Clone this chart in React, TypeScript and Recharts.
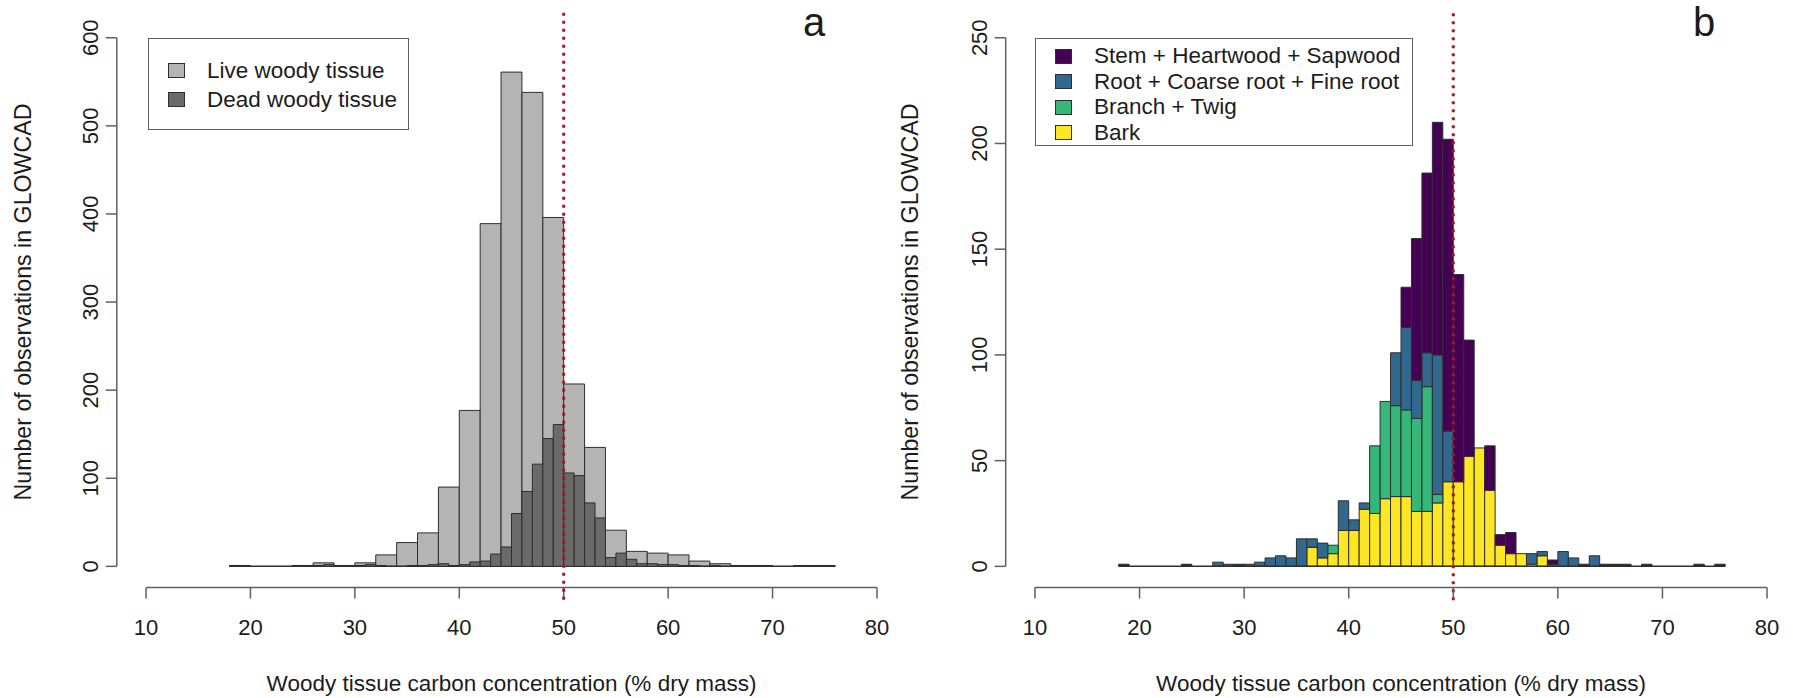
import React from "react";
import { ComposedChart, Bar, XAxis, YAxis, ReferenceLine, Legend, Label } from "recharts";

const FONT = '"Liberation Sans", Arial, Helvetica, sans-serif';
const INK = "#1c1c1c";
const AXIS = "#5f5f5f";
const EDGE = "#2e2e2e";
const RED = "#a8161f";

const W = 1793;
const H = 698;
const PLOT_TOP = 16.6;
const PLOT_BOTTOM = 587.5;

// both panels: xlim = c(10, 80), R pads it by 4% on each side
const X_TICKS = [10, 20, 30, 40, 50, 60, 70, 80];
const X_DOMAIN: [number, number] = [7.2, 82.8];
const CARBON_REF = 50;
const X_TITLE = "Woody tissue carbon concentration (% dry mass)";
const Y_TITLE = "Number of observations in GLOWCAD";

// ---- panel a: live tissue in 2% bins, dead tissue in 1% bins
const LIVE_BIN_WIDTH = 2;
const LIVE_BIN_START = [18, 20, 22, 24, 26, 28, 30, 32, 34, 36, 38, 40, 42, 44, 46, 48, 50, 52, 54, 56, 58, 60, 62, 64, 66, 68, 70, 72, 74];
const LIVE_COUNT = [1, 0, 0, 1, 4, 1, 4, 13, 27, 38, 90, 177, 389, 561, 538, 396, 207, 135, 41, 17, 15, 13, 6, 3, 1, 1, 0, 1, 1];

const DEAD_BIN_WIDTH = 1;
const DEAD_BIN_START = [18, 19, 20, 21, 22, 23, 24, 25, 26, 27, 28, 29, 30, 31, 32, 33, 34, 35, 36, 37, 38, 39, 40, 41, 42, 43, 44, 45, 46, 47, 48, 49, 50, 51, 52, 53, 54, 55, 56, 57, 58, 59, 60, 61, 62, 63, 64, 65, 66, 67, 68, 69, 70, 71, 72, 73, 74, 75];
const DEAD_COUNT = [
  1, 0, 0, 0, 0, 0, 1, 0, 1, 2,
  0, 0, 1, 2, 1, 0, 0, 1, 1, 2,
  3, 1, 2, 5, 6, 14, 22, 60, 85, 116,
  145, 161, 106, 103, 72, 55, 10, 15, 8, 3,
  3, 2, 2, 1, 1, 0, 1, 0, 0, 0,
  0, 0, 0, 0, 0, 0, 0, 0,
];

const Y_TICKS_A = [0, 100, 200, 300, 400, 500, 600];
const Y_DOMAIN_A: [number, number] = [-24, 624];
const LEGEND_A = ["Live woody tissue", "Dead woody tissue"];

// ---- panel b: stacked by tissue type, 1% bins
const TISSUE_BIN_WIDTH = 1;
const TISSUE_BIN_START = DEAD_BIN_START;
const BARK = [
  0, 0, 0, 0, 0, 0, 0, 0, 0, 0,
  0, 0, 0, 0, 0, 0, 0, 0, 9, 4,
  6, 17, 17, 27, 25, 32, 33, 33, 26, 26,
  30, 40, 40, 52, 56, 36, 10, 6, 6, 1,
  5, 0, 0, 0, 0, 0, 0, 0, 0, 0,
  0, 0, 0, 0, 0, 0, 0, 0,
];
const BRANCH = [
  0, 0, 0, 0, 0, 0, 0, 0, 0, 0,
  0, 0, 0, 0, 0, 0, 0, 0, 0, 0,
  4, 0, 0, 0, 32, 46, 43, 41, 44, 59,
  4, 0, 0, 0, 0, 0, 0, 0, 0, 0,
  0, 0, 0, 0, 0, 0, 0, 0, 0, 0,
  0, 0, 0, 0, 0, 0, 0, 0,
];
const ROOT = [
  0, 0, 0, 0, 0, 0, 0, 0, 0, 2,
  1, 0, 1, 2, 4, 5, 4, 13, 4, 7,
  0, 14, 5, 3, 0, 0, 25, 39, 18, 16,
  66, 24, 0, 0, 0, 0, 0, 0, 0, 5,
  2, 1, 7, 4, 0, 5, 0, 0, 0, 0,
  0, 0, 0, 0, 0, 0, 0, 0,
];
const STEM = [
  1, 0, 0, 0, 0, 0, 1, 0, 0, 0,
  0, 1, 0, 0, 0, 0, 0, 0, 0, 0,
  0, 0, 0, 0, 0, 0, 0, 19, 67, 85,
  110, 138, 98, 55, 0, 21, 5, 10, 0, 0,
  0, 2, 0, 0, 1, 0, 1, 1, 1, 0,
  1, 0, 0, 0, 0, 1, 0, 1,
];

const Y_TICKS_B = [0, 50, 100, 150, 200, 250];
const Y_DOMAIN_B: [number, number] = [-10, 260];
const LEGEND_B = ["Stem + Heartwood + Sapwood", "Root + Coarse root + Fine root", "Branch + Twig", "Bark"];

// styles
const LIVE_FILL = "#b4b4b4";
const DEAD_FILL = "#6a6a6a";
const VIRIDIS = { stem: "#440154", root: "#31688e", branch: "#35b779", bark: "#fde725" };

const PANEL_A = { left: 0, width: 930, plotLeft: 116.8, plotRight: 906.2, yTitleX: 23 };
const PANEL_B = { left: 896, width: 920, plotLeft: 109.7, plotRight: 900.3, yTitleX: 14 };

const liveData = LIVE_BIN_START.map((s, i) => ({ x: s + LIVE_BIN_WIDTH / 2, live: LIVE_COUNT[i] }));
const deadData = DEAD_BIN_START.map((s, i) => ({ x: s + DEAD_BIN_WIDTH / 2, dead: DEAD_COUNT[i] }));

const tissueData = TISSUE_BIN_START.map((s, i) => ({
  x: s + TISSUE_BIN_WIDTH / 2,
  bark: BARK[i],
  branch: BRANCH[i],
  root: ROOT[i],
  stem: STEM[i],
}));

const unitPx = (p: typeof PANEL_A) => (p.plotRight - p.plotLeft) / (X_DOMAIN[1] - X_DOMAIN[0]);
// a hair under the bin width, so recharts keeps the size instead of shrinking it to 90%
const binPx = (p: typeof PANEL_A, width: number) => unitPx(p) * width - 0.01;

function RotatedTick(props: any) {
  const { x, y, payload } = props;
  return (
    <text
      x={x}
      y={y}
      transform={`rotate(-90 ${x} ${y})`}
      textAnchor="middle"
      fontSize={22}
      fontFamily={FONT}
      fill={INK}
    >
      {payload.value}
    </text>
  );
}

function YTitle(props: any) {
  const vb = props.viewBox || { x: 0, y: PLOT_TOP, height: PLOT_BOTTOM - PLOT_TOP };
  const cx = vb.x + props.offset;
  const cy = vb.y + vb.height / 2;
  return (
    <text
      x={cx}
      y={cy}
      dy="0.36em"
      transform={`rotate(-90 ${cx} ${cy})`}
      textAnchor="middle"
      fontSize={23.2}
      fontFamily={FONT}
      fill={INK}
    >
      {Y_TITLE}
    </text>
  );
}

function BoxLegend({ labels, colors, rowHeight, padTop }: { labels: string[]; colors: string[]; rowHeight: number; padTop: number }) {
  return (
    <div
      style={{
        boxSizing: "border-box",
        width: "100%",
        height: "100%",
        border: `1.5px solid ${AXIS}`,
        background: "#fff",
        paddingTop: padTop,
        fontFamily: FONT,
        fontSize: 22.5,
        color: INK,
      }}
    >
      {labels.map((label, i) => (
        <div key={label} style={{ display: "flex", alignItems: "center", height: rowHeight, whiteSpace: "nowrap" }}>
          <span
            style={{
              display: "inline-block",
              boxSizing: "border-box",
              width: 17,
              height: 15,
              marginLeft: 19,
              marginRight: 22,
              background: colors[i],
              border: `1px solid ${EDGE}`,
            }}
          />
          <span>{label}</span>
        </div>
      ))}
    </div>
  );
}

function axisProps(panel: typeof PANEL_A) {
  return {
    xAxis: {
      type: "number" as const,
      dataKey: "x",
      domain: X_DOMAIN,
      allowDataOverflow: true,
      ticks: X_TICKS,
      interval: 0 as const,
      height: H - PLOT_BOTTOM,
      axisLine: false,
      tickLine: { stroke: AXIS, strokeWidth: 1.5 },
      tickSize: 11,
      tickMargin: 21,
      tick: { fontSize: 22, fill: INK, fontFamily: FONT },
    },
    yAxis: {
      type: "number" as const,
      allowDataOverflow: true,
      interval: 0 as const,
      width: panel.plotLeft,
      axisLine: false,
      tickLine: { stroke: AXIS, strokeWidth: 1.5 },
      tickSize: 11,
      tickMargin: 7.5,
      tick: (p: any) => <RotatedTick {...p} />,
    },
  };
}

// R-style detached axis lines plus the zero line that empty bins leave behind
function frameLines(yDomain: [number, number], yTicks: number[], binFrom: number, binTo: number) {
  return [
    <ReferenceLine
      key="zero"
      segment={[
        { x: binFrom, y: 0 },
        { x: binTo, y: 0 },
      ]}
      stroke={EDGE}
      strokeWidth={1.5}
      ifOverflow="visible"
    />,
    <ReferenceLine
      key="yline"
      segment={[
        { x: X_DOMAIN[0], y: yTicks[0] },
        { x: X_DOMAIN[0], y: yTicks[yTicks.length - 1] },
      ]}
      stroke={AXIS}
      strokeWidth={1.5}
      ifOverflow="visible"
    />,
    <ReferenceLine
      key="xline"
      segment={[
        { x: X_TICKS[0], y: yDomain[0] },
        { x: X_TICKS[X_TICKS.length - 1], y: yDomain[0] },
      ]}
      stroke={AXIS}
      strokeWidth={1.5}
      ifOverflow="visible"
    />,
  ];
}

function PanelA() {
  const p = PANEL_A;
  const ax = axisProps(p);
  const margin = { top: PLOT_TOP, right: p.width - p.plotRight, bottom: 0, left: 0 };
  return (
    <div style={{ position: "relative", width: p.width, height: H }}>
      {/* live tissue, with the axes */}
      <div style={{ position: "absolute", left: 0, top: 0 }}>
        <ComposedChart width={p.width} height={H} data={liveData} margin={margin}>
          <XAxis {...ax.xAxis}>
            <Label value={X_TITLE} position="insideBottom" offset={7} fontSize={22.5} fill={INK} fontFamily={FONT} />
          </XAxis>
          <YAxis {...ax.yAxis} domain={Y_DOMAIN_A} ticks={Y_TICKS_A}>
            <Label content={(lp: any) => <YTitle {...lp} offset={p.yTitleX} />} />
          </YAxis>
          <Bar
            dataKey="live"
            name={LEGEND_A[0]}
            fill={LIVE_FILL}
            stroke={EDGE}
            strokeWidth={1}
            barSize={binPx(p, LIVE_BIN_WIDTH)}
            isAnimationActive={false}
          />
          {frameLines(
            Y_DOMAIN_A,
            Y_TICKS_A,
            LIVE_BIN_START[0],
            LIVE_BIN_START[LIVE_BIN_START.length - 1] + LIVE_BIN_WIDTH
          )}
        </ComposedChart>
      </div>
      {/* dead tissue drawn over it on the same scales */}
      <div style={{ position: "absolute", left: 0, top: 0 }}>
        <ComposedChart width={p.width} height={H} data={deadData} margin={{ ...margin, left: p.plotLeft, bottom: H - PLOT_BOTTOM }}>
          <XAxis type="number" dataKey="x" domain={X_DOMAIN} allowDataOverflow hide />
          <YAxis type="number" domain={Y_DOMAIN_A} allowDataOverflow hide />
          <Legend
            layout="horizontal"
            verticalAlign="middle"
            align="center"
            wrapperStyle={{ left: 148, top: 38, width: 261, height: 92 }}
            content={() => <BoxLegend labels={LEGEND_A} colors={[LIVE_FILL, DEAD_FILL]} rowHeight={29} padTop={17} />}
          />
          <Bar
            dataKey="dead"
            name={LEGEND_A[1]}
            fill={DEAD_FILL}
            stroke={EDGE}
            strokeWidth={1}
            barSize={binPx(p, DEAD_BIN_WIDTH)}
            isAnimationActive={false}
          />
          <ReferenceLine
            segment={[
              { x: CARBON_REF, y: -38 },
              { x: CARBON_REF, y: 630 },
            ]}
            stroke={RED}
            strokeWidth={3}
            strokeDasharray="3 5"
            ifOverflow="visible"
          />
        </ComposedChart>
      </div>
    </div>
  );
}

function PanelB() {
  const p = PANEL_B;
  const ax = axisProps(p);
  const series = [
    { key: "bark", name: LEGEND_B[3], color: VIRIDIS.bark },
    { key: "branch", name: LEGEND_B[2], color: VIRIDIS.branch },
    { key: "root", name: LEGEND_B[1], color: VIRIDIS.root },
    { key: "stem", name: LEGEND_B[0], color: VIRIDIS.stem },
  ];
  return (
    <ComposedChart
      width={p.width}
      height={H}
      data={tissueData}
      margin={{ top: PLOT_TOP, right: p.width - p.plotRight, bottom: 0, left: 0 }}
    >
      <XAxis {...ax.xAxis}>
        <Label value={X_TITLE} position="insideBottom" offset={7} fontSize={22.5} fill={INK} fontFamily={FONT} />
      </XAxis>
      <YAxis {...ax.yAxis} domain={Y_DOMAIN_B} ticks={Y_TICKS_B}>
        <Label content={(lp: any) => <YTitle {...lp} offset={p.yTitleX} />} />
      </YAxis>
      <Legend
        layout="horizontal"
        verticalAlign="middle"
        align="center"
        wrapperStyle={{ left: 139, top: 38, width: 378, height: 108 }}
        content={() => (
          <BoxLegend
            labels={LEGEND_B}
            colors={[VIRIDIS.stem, VIRIDIS.root, VIRIDIS.branch, VIRIDIS.bark]}
            rowHeight={25.5}
            padTop={4.5}
          />
        )}
      />
      {series.map((s) => (
        <Bar
          key={s.key}
          dataKey={s.key}
          name={s.name}
          stackId="tissue"
          fill={s.color}
          stroke={EDGE}
          strokeWidth={1}
          barSize={binPx(p, TISSUE_BIN_WIDTH)}
          isAnimationActive={false}
        />
      ))}
      {frameLines(
        Y_DOMAIN_B,
        Y_TICKS_B,
        TISSUE_BIN_START[0],
        TISSUE_BIN_START[TISSUE_BIN_START.length - 1] + TISSUE_BIN_WIDTH
      )}
      <ReferenceLine
        segment={[
          { x: CARBON_REF, y: -16 },
          { x: CARBON_REF, y: 263 },
        ]}
        stroke={RED}
        strokeWidth={3}
        strokeDasharray="3 5"
        ifOverflow="visible"
      />
    </ComposedChart>
  );
}

const panelTag: React.CSSProperties = {
  position: "absolute",
  top: 0,
  fontFamily: FONT,
  fontSize: 40,
  color: INK,
  lineHeight: "normal",
  transform: "translateX(-50%)",
};

export default function App() {
  return (
    <div style={{ position: "absolute", left: 0, top: 0, width: W, height: H, overflow: "hidden", background: "#fff" }}>
      <div style={{ position: "absolute", left: PANEL_A.left, top: 0 }}>
        <PanelA />
      </div>
      <div style={{ position: "absolute", left: PANEL_B.left, top: 0 }}>
        <PanelB />
      </div>
      <div style={{ ...panelTag, left: 814 }}>a</div>
      <div style={{ ...panelTag, left: 1704 }}>b</div>
    </div>
  );
}
